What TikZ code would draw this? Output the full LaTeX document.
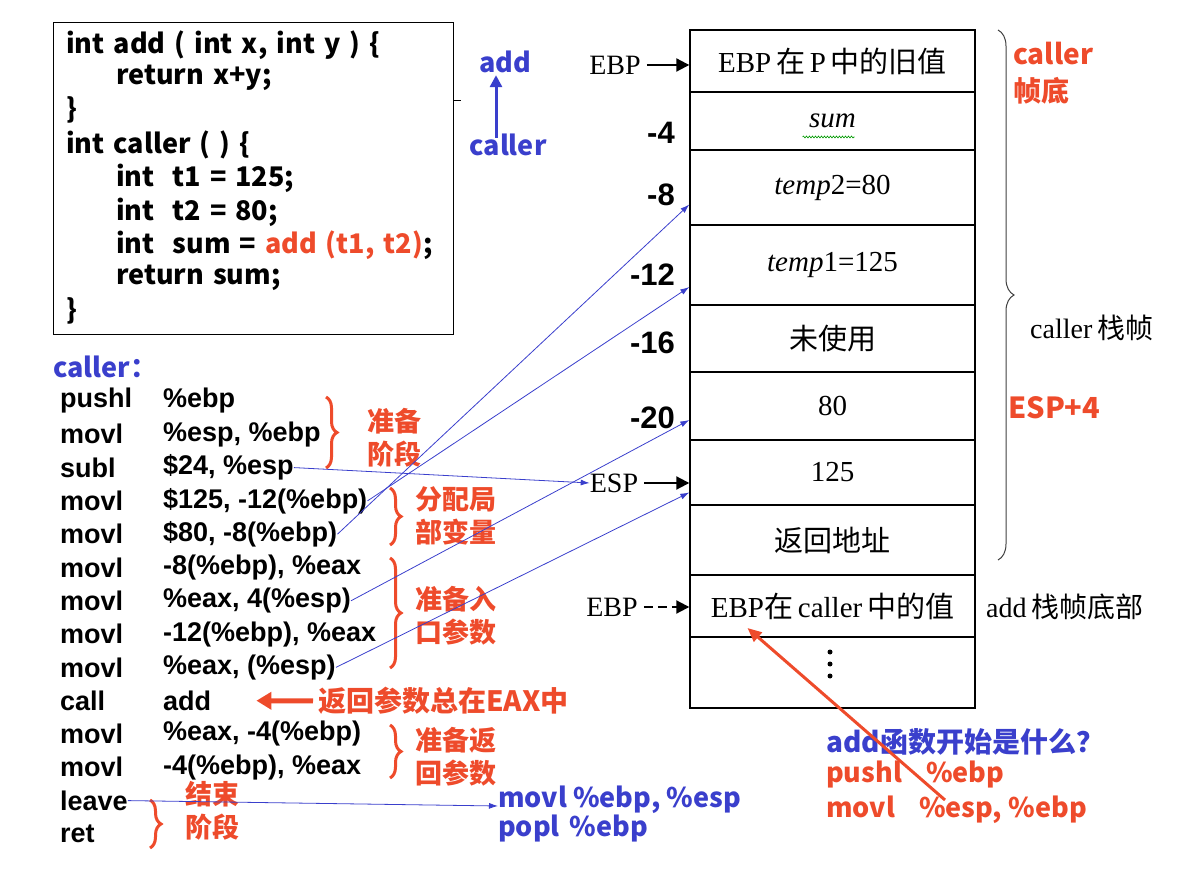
\documentclass[tikz,border=0pt]{standalone}
\usepackage{fontspec}
\usepackage{tikz}
\usetikzlibrary{arrows.meta,positioning,decorations.pathreplacing,decorations.pathmorphing,calc}
\newfontfamily\yh{Noto Sans CJK SC}
\newfontfamily\zhR{Noto Sans CJK SC}
\newfontfamily\arialB{Liberation Sans}
\newfontfamily\timesR{Liberation Serif}
\newcommand\zh[1]{{\zhR #1}}
\newcommand\codeFont{\yh\bfseries\fontsize{27}{30}\selectfont\spaceskip=9pt plus 2pt\relax}
\definecolor{noteRed}{HTML}{EE4B2B}
\definecolor{noteBlue}{HTML}{3A3FCC}

\begin{document}
\begin{tikzpicture}[x=1pt, y=1pt, >=Latex,
  codeLine/.style={anchor=west, inner sep=0pt, font=\codeFont},
  asmLine/.style={anchor=west, inner sep=0pt, font=\arialB\bfseries\fontsize{27}{30}\selectfont},
  redNote/.style={anchor=west, inner sep=0pt, align=left, text=noteRed, font=\yh\bfseries\fontsize{27}{33}\selectfont},
  blueNote/.style={anchor=west, inner sep=0pt, align=left, text=noteBlue, font=\yh\bfseries\fontsize{27}{29}\selectfont},
  cell/.style={draw, line width=1.4pt, minimum width=285, inner sep=0pt, font=\timesR\fontsize{29}{30}\selectfont},
  offset/.style={anchor=east, inner sep=0pt, font=\arialB\bfseries\fontsize{31}{32}\selectfont},
  regLabel/.style={inner sep=0pt, font=\timesR\fontsize{28}{30}\selectfont},
  redBrace/.style={draw=noteRed, line width=3pt, decorate, decoration={brace, amplitude=11pt}},
  link/.style={draw=noteBlue, line width=0.8pt, -{Latex[length=9pt,width=6pt]}},
  ptr/.style={line width=2pt, shorten <=6pt, -{Triangle[length=13pt,width=13pt]}}]
\useasboundingbox (0,0) rectangle (1192,-874);

\node[draw, line width=1pt, minimum width=400, minimum height=312, anchor=north west] (code) at (53,-22) {};
\node[codeLine] (c1) at (66,-45) {int add ( int x, int y ) \{};
\node[codeLine] (c2) at (116,-78) {return x+y;};
\node[codeLine] (c3) at (66,-110) {\}};
\node[codeLine] (c4) at (66,-145) {int caller ( ) \{};
\node[codeLine] (c5) at (116,-178) {int\hspace{18pt}t1 = 125;};
\node[codeLine] (c6) at (116,-212) {int\hspace{18pt}t2 = 80;};
\node[codeLine] (c7) at (116,-245) {int\hspace{18pt}sum = \textcolor{noteRed}{add (t1, t2)};};
\node[codeLine] (c8) at (116,-278) {return sum;};
\node[codeLine] (c9) at (66,-311) {\}};
\draw[line width=1pt] ([yshift=78]code.east) -- ++(7,0);

\node[inner sep=0pt, text=noteBlue, font=\yh\bfseries\fontsize{27}{30}\selectfont] (addFn) at (505,-62) {add};
\node[inner sep=0pt, text=noteBlue, font=\yh\bfseries\fontsize{27}{30}\selectfont] (callerFn) at (508,-145) {caller};
\draw[noteBlue, line width=3pt, -{Triangle[length=12pt,width=12pt]}] ([xshift=-12,yshift=-4]callerFn.north) -- ([xshift=-9,yshift=-2]addFn.south);

\foreach \n/\t/\b/\txt in {1/30/92/{EBP\,\zh{在}\,P\,\zh{中的旧值}}, 2/92/150/{\textit{sum}},
    3/150/225/{\textit{temp}2=80}, 4/225/305/{\textit{temp}1=125}, 5/305/372/{\zh{未使用}},
    6/372/440/{80}, 7/440/505/{125}, 8/505/575/{\zh{返回地址}},
    9/575/637/{EBP\zh{在}\,caller\,\zh{中的值}}, 10/637/708/{}}
  \node[cell, minimum height={\b-\t}] (r\n) at (832.5,{-(\t+\b)/2}) {\txt};
\foreach \d in {0,1,2} \fill (830,{-652-\d*12}) circle (2.5);
\draw[green!60!black, line width=0.6pt, decorate, decoration={snake, amplitude=1pt, segment length=3pt}] ([xshift=-30,yshift=-16]r2.center) -- ++(52,0);

\node[regLabel] (ebpTop) at (615,-65) {EBP};
\draw[ptr] (ebpTop.east) -- (ebpTop.east -| r1.west);
\node[regLabel] (espLbl) at (614,-483) {ESP};
\draw[ptr] (espLbl.east) -- (espLbl.east -| r7.west);
\node[regLabel] (ebpAdd) at (612,-607) {EBP};
\draw[ptr, dash pattern=on 9pt off 5pt] (ebpAdd.east) -- (ebpAdd.east -| r9.west);

\foreach \v/\y [count=\k] in {-4/133, -8/195, -12/275, -16/343, -20/418}
  \node[offset] (off\k) at (675,-\y) {\v};

\draw[decorate, decoration={brace, amplitude=16pt}, line width=1pt, black!75] (998,-30) -- (998,-560);
\node[redNote, font=\yh\bfseries\fontsize{28}{37}\selectfont] (cBase) at (1013,-73) {caller\\帧底};
\node[regLabel, anchor=west] (cFrame) at (1030,-328) {caller\,\zh{栈帧}};
\node[redNote, font=\yh\bfseries\fontsize{29}{37}\selectfont] (espPlus) at (1008,-408) {ESP+4};
\node[regLabel, anchor=west] (addBase) at (986,-607) {add\,\zh{栈帧底部}};

\node[anchor=west, inner sep=0pt, text=noteBlue, font=\yh\bfseries\fontsize{27}{30}\selectfont] (asmHead) at (53,-367) {caller：};
\foreach \i/\m/\o in {1/pushl/{\%ebp}, 2/movl/{\%esp, \%ebp}, 3/subl/{\$24, \%esp},
    4/movl/{\$125, -12(\%ebp)}, 5/movl/{\$80, -8(\%ebp)}, 6/movl/{-8(\%ebp), \%eax},
    7/movl/{\%eax, 4(\%esp)}, 8/movl/{-12(\%ebp), \%eax}, 9/movl/{\%eax, (\%esp)},
    10/call/{add}, 11/movl/{\%eax, -4(\%ebp)}, 12/movl/{-4(\%ebp), \%eax}, 13/leave/{}, 14/ret/{}} {
  \node[asmLine] (mn\i) at (60,{-401-(\i-1)*33.3}) {\m};
  \node[asmLine] (op\i) at (163,{-401-(\i-1)*33.3}) {\o};
}

\draw[redBrace] (326,-397) -- (326,-468);
\node[redNote] (n1) at (367,-438) {准备\\阶段};
\draw[redBrace] (390,-488) -- (390,-545);
\node[redNote] (n2) at (415,-516) {分配局\\部变量};
\draw[redBrace] (390,-558) -- (390,-668);
\node[redNote] (n3) at (415,-616) {准备入\\口参数};
\node[redNote, font=\yh\bfseries\fontsize{28}{33}\selectfont] (n4) at (318,-701) {返回参数总在EAX中};
\draw[noteRed, line width=5pt, shorten <=5pt, -{Triangle[length=15pt,width=17pt]}] (n4.west) -- ([xshift=45]op10.east);
\draw[redBrace] (390,-725) -- (390,-778);
\node[redNote] (n5) at (415,-757) {准备返\\回参数};
\draw[redBrace] (150,-800) -- (150,-848);
\node[redNote] (n6) at (185,-811) {结束\\阶段};

\node[blueNote] (lv1) at (498,-800) {movl \%ebp, \%esp};
\node[blueNote] (lv2) at (498,-829) {popl\hspace{10pt}\%ebp};

\draw[link] (op3.east) -- (espLbl.west);
\draw[link] (op4.east) -- ([yshift=-22]r4.west);
\draw[link] (op5.east) -- ([yshift=-17]r3.west);
\draw[link] (op7.east) -- ([yshift=-14]r6.west);
\draw[link] (op9.east) -- ([yshift=-20]r7.west);
\draw[link] (mn13.east) -- ([yshift=-6]lv1.west);

\node[blueNote, font=\yh\bfseries\fontsize{28}{30}\selectfont] (q1) at (826,-742) {add函数开始是什么？};
\node[redNote] (q2) at (826,-775) {pushl\hspace{24pt}\%ebp};
\node[redNote] (q3) at (826,-810) {movl\hspace{24pt}\%esp, \%ebp};
\coordinate (qTail) at (945,-800);
\draw[noteRed, line width=3pt, -{Triangle[length=14pt,width=12pt]}] (qTail) -- ([shift={(-85,-22)}]r9.center);
\end{tikzpicture}
\end{document}
